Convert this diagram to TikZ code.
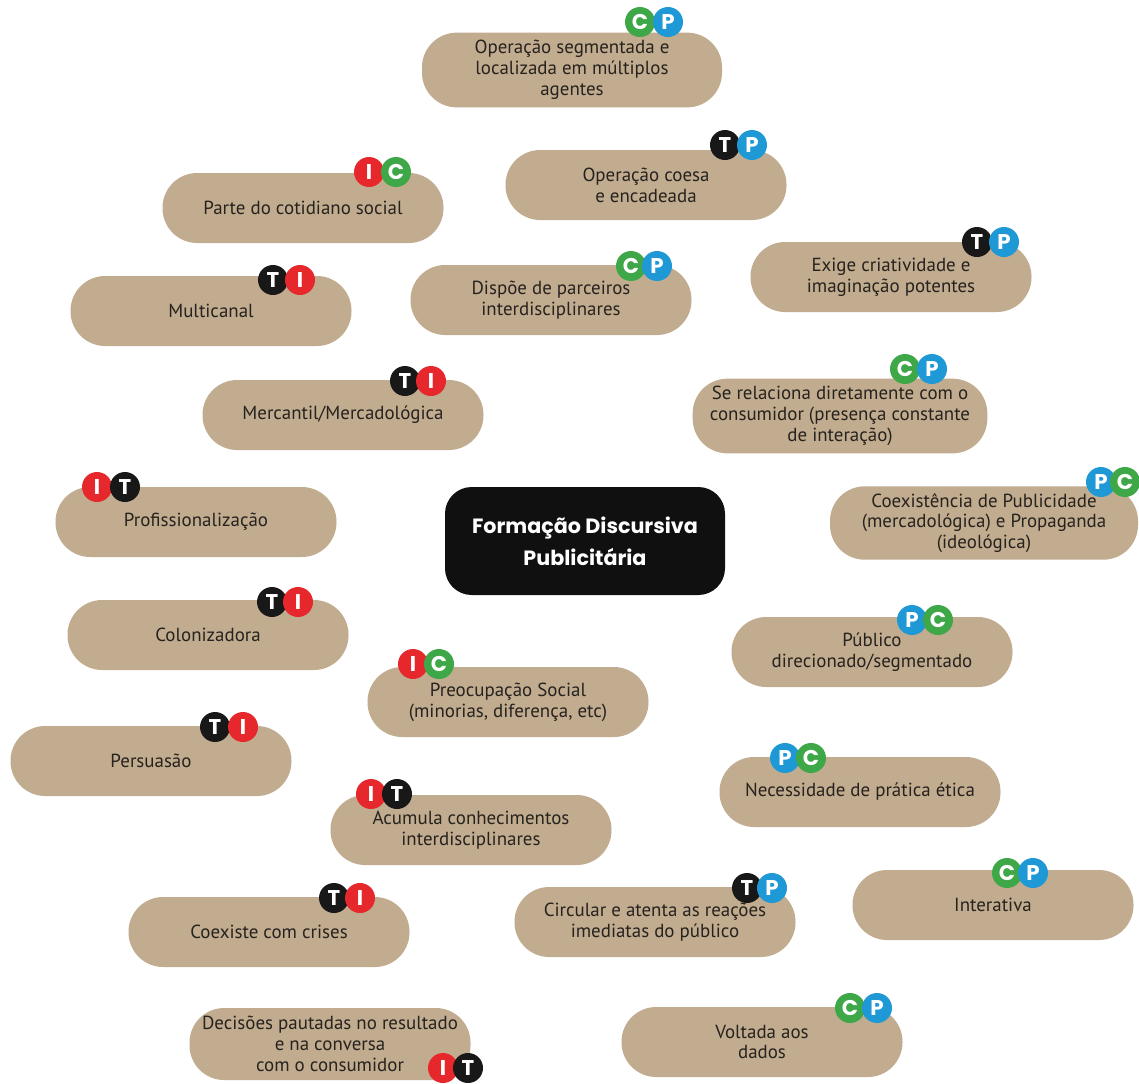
\documentclass[tikz,border=0pt]{standalone}
\usepackage{fontspec}
\setmainfont{PT Sans}
\newfontfamily\titlefont{Poppins}
\definecolor{pilltan}{RGB}{194,172,143}
\definecolor{pilltext}{RGB}{38,34,30}
\definecolor{coreblack}{RGB}{16,16,16}
\definecolor{tagC}{RGB}{62,167,72}
\definecolor{tagP}{RGB}{30,153,214}
\definecolor{tagT}{RGB}{24,24,24}
\definecolor{tagI}{RGB}{230,40,44}

\begin{document}
\begin{tikzpicture}[x=0.75pt, y=-0.75pt,
	pill/.style={fill=pilltan, rounded corners=26pt, minimum width=210.75pt, minimum height=52.5pt,
		inner sep=2pt, align=center, text=pilltext, font=\fontsize{14.2}{15.6}\selectfont},
	core/.style={fill=coreblack, rounded corners=20pt, minimum width=210pt, minimum height=81pt,
		align=center, text=white, font=\titlefont\bfseries\fontsize{15.5}{24}\selectfont},
	tag/.style={circle, inner sep=0pt, minimum size=22.5pt, text=white,
		font=\titlefont\bfseries\fontsize{16}{16}\selectfont}]

		% page size of the reference
		\useasboundingbox[fill=white] (0,0) rectangle (1139,1083);

		% central node
		\node[core] (formacao) at (585,541) {Formação Discursiva\\Publicitária};

		% pills, top to bottom
		\node[pill, minimum width=225pt, minimum height=56pt] (segmentada) at (572,70)
			{Operação segmentada e\\localizada em múltiplos\\agentes};
		\node[pill] (coesa) at (646,185) {Operação coesa\\e encadeada};
		\node[pill] (cotidiano) at (303,208) {Parte do cotidiano social};
		\node[pill] (criatividade) at (891,277) {Exige criatividade e\\imaginação potentes};
		\node[pill] (parceiros) at (551,300) {Dispõe de parceiros\\interdisciplinares};
		\node[pill] (multicanal) at (211,311) {Multicanal};
		\node[pill] (mercantil) at (343,415) {Mercantil/Mercadológica};
		\node[pill, minimum width=221pt, minimum height=56pt] (consumidor) at (840,416)
			{Se relaciona diretamente com o\\consumidor (presença constante\\de interação)};
		\node[pill] (profissional) at (196,522) {Profissionalização};
		\node[pill, minimum width=231pt, minimum height=55pt] (coexistencia) at (984,523)
			{Coexistência de Publicidade\\(mercadológica) e Propaganda\\(ideológica)};
		\node[pill] (colonizadora) at (208,635) {Colonizadora};
		\node[pill] (publico) at (872,652) {Público\\direcionado/segmentado};
		\node[pill] (preocupacao) at (508,702) {Preocupação Social\\(minorias, diferença, etc)};
		\node[pill] (persuasao) at (151,761) {Persuasão};
		\node[pill] (etica) at (860,792) {Necessidade de prática ética};
		\node[pill] (acumula) at (471,830) {Acumula conhecimentos\\interdisciplinares};
		\node[pill] (interativa) at (993,905) {Interativa};
		\node[pill] (circular) at (655,922) {Circular e atenta as reações\\imediatas do público};
		\node[pill] (crises) at (269,932) {Coexiste com crises};
		\node[pill] (dados) at (762,1042) {Voltada aos\\dados};
		\node[pill, minimum height=54pt] (decisoes) at (330,1044)
			{Decisões pautadas no resultado\\e na conversa\\com o consumidor};

		% letter tags (second one of each pair sits on top)
		\foreach \pill/\x/\y/\l in {
			segmentada/640/22/C, segmentada/668/22/P,
			coesa/725/145/T, coesa/752/145/P,
			cotidiano/369/172/I, cotidiano/396/172/C,
			multicanal/273/280/T, multicanal/300/280/I,
			parceiros/631/266/C, parceiros/657/266/P,
			criatividade/977/242/T, criatividade/1004/242/P,
			mercantil/405/381/T, mercantil/431/381/I,
			consumidor/905/369/C, consumidor/932/369/P,
			profissional/97/487/I, profissional/125/487/T,
			coexistencia/1101/482/P, coexistencia/1125/482/C,
			colonizadora/272/602/T, colonizadora/298/602/I,
			publico/912/620/P, publico/938/620/C,
			preocupacao/413/664/I, preocupacao/439/664/C,
			persuasao/215/727/T, persuasao/243/727/I,
			etica/785/758/P, etica/811/758/C,
			acumula/371/794/I, acumula/397/794/T,
			circular/747/888/T, circular/772/888/P,
			interativa/1007/873/C, interativa/1033/873/P,
			crises/334/898/T, crises/360/898/I,
			dados/850/1008/C, dados/877/1008/P,
			decisoes/443/1068/I, decisoes/468/1068/T}
			\node[tag, fill=tag\l] (\pill-\l) at (\x,\y) {\l};

	\end{tikzpicture}
\end{document}
